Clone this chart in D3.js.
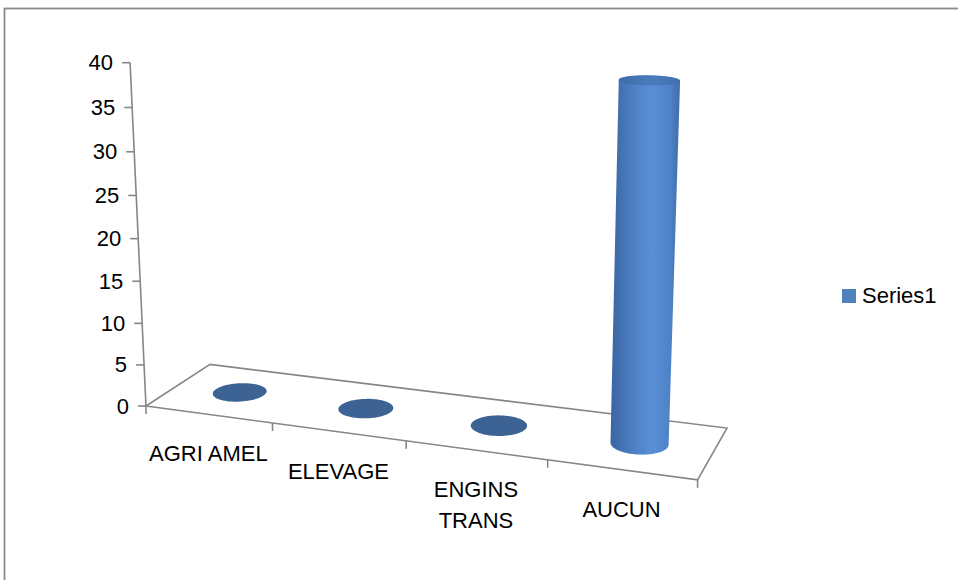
<!DOCTYPE html>
<html>
  <head>
    <meta charset="utf-8">
    <title>Series1</title>
    <style>
      body { margin: 0; background: #fff; }
      text { font-family: "Liberation Sans", Arial, sans-serif; fill: #000; }
    </style>
  </head>
  <body>
    <script src="https://d3js.org/d3.v7.min.js"></script>
    <svg id="chart" width="958" height="580"></svg>
    <script>

      // Data
      var categories = ["AGRI AMEL", "ELEVAGE", "ENGINS TRANS", "AUCUN"];
      var labelLines = [["AGRI AMEL"], ["ELEVAGE"], ["ENGINS", "TRANS"], ["AUCUN"]];
      var values = [0, 0, 0, 40];
      var yTicks = [0, 5, 10, 15, 20, 25, 30, 35, 40];
      var seriesName = "Series1";

      var svg = d3.select("#chart");

      // world scales : x across categories, y = value height, depth 0 (front) .. 1 (back)
      var x = d3.scaleBand().domain(categories).range([0, 4]);
      var y = d3.scaleLinear().domain([0, 40]).range([0, 1]);

      // where the plot frame sits on screen, used to calibrate the perspective
      var frame = [
        [0, 0, 0, 145.5, 405.5], [1, 0, 0, 273.3, 423], [2, 0, 0, 406, 441.5],
        [3, 0, 0, 547, 460.5], [4, 0, 0, 698, 479],
        [0, 0, 1, 210, 364.5], [4, 0, 1, 727, 428],
        [0, 1, 0, 130, 62.7], [0, 0.75, 0, 134.2, 151.7],
        [0, 0.5, 0, 138.3, 238.7], [0, 0.25, 0, 142.3, 323.3]
      ];

      // least squares fit of a 3x4 projection (DLT)
      function solve(M, r) {
        var n = r.length;
        for (var i = 0; i < n; i++) {
          var p = i;
          for (var k = i + 1; k < n; k++) if (Math.abs(M[k][i]) > Math.abs(M[p][i])) p = k;
          var t = M[i]; M[i] = M[p]; M[p] = t;
          t = r[i]; r[i] = r[p]; r[p] = t;
          for (var k = i + 1; k < n; k++) {
            var f = M[k][i] / M[i][i];
            for (var j = i; j < n; j++) M[k][j] -= f * M[i][j];
            r[k] -= f * r[i];
          }
        }
        var out = new Array(n);
        for (var i = n - 1; i >= 0; i--) {
          var s = r[i];
          for (var j = i + 1; j < n; j++) s -= M[i][j] * out[j];
          out[i] = s / M[i][i];
        }
        return out;
      }

      var rows = [], rhs = [];
      frame.forEach(function (f) {
        var X = f[0], Y = f[1], Z = f[2], u = f[3], v = f[4];
        rows.push([X, Y, Z, 1, 0, 0, 0, 0, -u * X, -u * Y, -u * Z]); rhs.push(u);
        rows.push([0, 0, 0, 0, X, Y, Z, 1, -v * X, -v * Y, -v * Z]); rhs.push(v);
      });
      var N = d3.range(11).map(function (i) {
        return d3.range(11).map(function (j) { return d3.sum(rows, function (r) { return r[i] * r[j]; }); });
      });
      var Nb = d3.range(11).map(function (i) { return d3.sum(rows, function (r, k) { return r[i] * rhs[k]; }); });
      var P = solve(N, Nb);

      function project(X, Y, Z) {
        var w = P[8] * X + P[9] * Y + P[10] * Z + 1;
        return [(P[0] * X + P[1] * Y + P[2] * Z + P[3]) / w,
                (P[4] * X + P[5] * Y + P[6] * Z + P[7]) / w];
      }

      var line = d3.line();
      var gray = "#868686";

      // outer border
      svg.append("rect")
        .attr("x", 4.5).attr("y", 8.5)
        .attr("width", 1000).attr("height", 1000)
        .attr("fill", "none").attr("stroke", "#8a8a8a").attr("stroke-width", 1.8);

      // floor
      svg.append("path")
        .attr("d", line([project(0, 0, 0), project(4, 0, 0), project(4, 0, 1), project(0, 0, 1)]) + "Z")
        .attr("fill", "#fff").attr("stroke", gray).attr("stroke-width", 1.6);

      // category ticks
      d3.range(0, 5).forEach(function (i) {
        var p = project(i, 0, 0);
        svg.append("line")
          .attr("x1", p[0]).attr("y1", p[1]).attr("x2", p[0]).attr("y2", p[1] + 8)
          .attr("stroke", gray).attr("stroke-width", 1.6);
      });

      // value axis
      svg.append("path")
        .attr("d", line([project(0, y(0), 0), project(0, y(40), 0)]))
        .attr("stroke", gray).attr("stroke-width", 1.6).attr("fill", "none");

      var yAxis = svg.append("g");
      yTicks.forEach(function (t) {
        var p = project(0, y(t), 0);
        yAxis.append("line")
          .attr("x1", p[0] - 8).attr("y1", p[1]).attr("x2", p[0]).attr("y2", p[1])
          .attr("stroke", gray).attr("stroke-width", 1.6);
        yAxis.append("text")
          .attr("x", p[0] - 17).attr("y", p[1] + 7.5)
          .attr("text-anchor", "end").attr("font-size", 22)
          .text(t);
      });

      // category labels
      categories.forEach(function (c, i) {
        var p = project(x(c) + x.bandwidth() / 2, 0, 0);
        var t = svg.append("text").attr("text-anchor", "middle").attr("font-size", 22);
        labelLines[i].forEach(function (s, k) {
          t.append("tspan").attr("x", p[0]).attr("y", p[1] + 47 + k * 31).text(s);
        });
      });

      // cylinders
      var defs = svg.append("defs");
      var rx = 0.195, rz = 0.205, steps = 72;

      categories.forEach(function (c, i) {
        var cx = x(c) + x.bandwidth() / 2, cz = 0.5, h = y(values[i]);
        var bottom = [], top = [];
        for (var k = 0; k < steps; k++) {
          var a = 2 * Math.PI * k / steps;
          bottom.push(project(cx + rx * Math.cos(a), 0, cz + rz * Math.sin(a)));
          top.push(project(cx + rx * Math.cos(a), h, cz + rz * Math.sin(a)));
        }
        if (h > 0) {
          var hull = d3.polygonHull(bottom.concat(top));
          var ext = d3.extent(hull, function (p) { return p[0]; });
          var gid = "body" + i;
          var g = defs.append("linearGradient").attr("id", gid)
            .attr("gradientUnits", "userSpaceOnUse")
            .attr("x1", ext[0]).attr("x2", ext[1]).attr("y1", 0).attr("y2", 0);
          g.append("stop").attr("offset", "0%").attr("stop-color", "#3a65a0");
          g.append("stop").attr("offset", "20%").attr("stop-color", "#4676b8");
          g.append("stop").attr("offset", "58%").attr("stop-color", "#5a8fd6");
          g.append("stop").attr("offset", "85%").attr("stop-color", "#4f83c8");
          g.append("stop").attr("offset", "100%").attr("stop-color", "#3e6ca9");
          svg.append("path").attr("d", line(hull) + "Z").attr("fill", "url(#" + gid + ")");

          var cid = "cap" + i;
          var cg = defs.append("linearGradient").attr("id", cid)
            .attr("gradientUnits", "userSpaceOnUse")
            .attr("x1", ext[0]).attr("x2", ext[1]).attr("y1", 0).attr("y2", 0);
          cg.append("stop").attr("offset", "0%").attr("stop-color", "#3c67a1");
          cg.append("stop").attr("offset", "60%").attr("stop-color", "#4a7cbd");
          cg.append("stop").attr("offset", "100%").attr("stop-color", "#406fae");
          svg.append("path").attr("d", line(top) + "Z").attr("fill", "url(#" + cid + ")");
        } else {
          svg.append("path").attr("d", line(top) + "Z").attr("fill", "#3d6395");
        }
      });

      // legend
      var legend = svg.append("g").attr("transform", "translate(842,289)");
      legend.append("rect").attr("width", 14).attr("height", 14).attr("fill", "#4f81bd");
      legend.append("text").attr("x", 20).attr("y", 14.3).attr("font-size", 22).text(seriesName);

    </script>
  </body>
</html>
